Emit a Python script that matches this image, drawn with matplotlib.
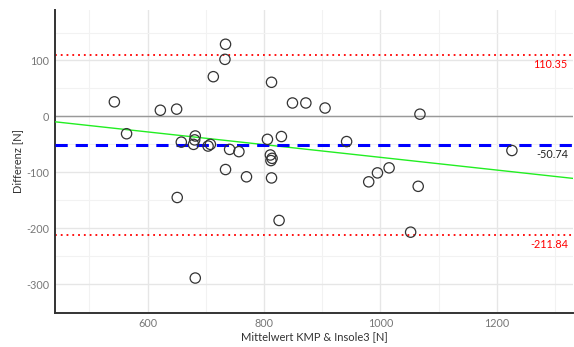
import matplotlib
matplotlib.use("Agg")
import matplotlib.pyplot as plt
import numpy as np

mean_x = [543, 564, 622, 650, 651, 658, 682, 681, 679, 682, 704, 708, 713, 733, 734,
          734, 741, 757, 770, 806, 813, 811, 814, 812, 813, 826, 830, 849, 872, 905,
          942, 980, 995, 1015, 1052, 1065, 1068, 1226]
diff_y = [26, -31, 11, 13, -145, -46, -35, -42, -50, -289, -53, -50, 71, 102, 129,
          -95, -59, -63, -108, -41, 61, -69, -75, -79, -110, -186, -36, 24, 24, 15,
          -45, -117, -101, -92, -207, -125, 4, -61]

bias = -50.74
loa_upper = 110.35
loa_lower = -211.84
reg_intercept = 40.5
reg_slope = -0.1137

x_ticks = [600, 800, 1000, 1200]
y_ticks = [-300, -200, -100, 0, 100]

plt.rcParams['font.family'] = ['Lato', 'DejaVu Sans']
plt.rcParams['axes.unicode_minus'] = False

fig = plt.figure(figsize=(5.74, 3.47), dpi=100)
ax = fig.add_axes([0.0958, 0.0988, 0.9025, 0.872])

xlim = (441, 1331)
ylim = (-351, 190)
ax.set_xlim(*xlim)
ax.set_ylim(*ylim)

ax.set_xticks(x_ticks)
ax.set_yticks(y_ticks)
ax.set_xticks([500, 700, 900, 1100, 1300], minor=True)
ax.set_yticks([-350, -250, -150, -50, 50, 150], minor=True)
ax.grid(True, which='major', color='#e6e6e6', linewidth=1.0)
ax.grid(True, which='minor', color='#f2f2f2', linewidth=0.8)
ax.set_axisbelow(True)
ax.tick_params(which='both', length=0, labelsize=7.8, labelcolor='#777777', pad=4)

for s in ['top', 'right']:
    ax.spines[s].set_visible(False)
for s in ['left', 'bottom']:
    ax.spines[s].set_color('#333333')
    ax.spines[s].set_linewidth(1.4)

ax.axhline(0, color='#999999', linewidth=1.0, zorder=2)
ax.axhline(loa_upper, color='red', linestyle=(0, (1, 2.2)), linewidth=1.3, zorder=2)
ax.axhline(loa_lower, color='red', linestyle=(0, (1, 2.2)), linewidth=1.3, zorder=2)

xr = np.array(xlim)
ax.plot(xr, reg_intercept + reg_slope * xr, color='#22ee22', linewidth=1.0, zorder=3)
ax.axhline(bias, color='blue', linestyle=(0, (4, 2.6)), linewidth=2.2, zorder=3)

ax.scatter(mean_x, diff_y, s=55, facecolors='none', edgecolors='#333333',
           linewidths=0.9, zorder=4)

ax.text(0.99, loa_upper - 8, f"{loa_upper:.2f}", transform=ax.get_yaxis_transform(),
        ha='right', va='top', color='red', fontsize=7.8)
ax.text(0.99, bias - 8, f"{bias:.2f}", transform=ax.get_yaxis_transform(),
        ha='right', va='top', color='#222222', fontsize=7.8)
ax.text(0.99, loa_lower - 8, f"{loa_lower:.2f}", transform=ax.get_yaxis_transform(),
        ha='right', va='top', color='red', fontsize=7.8)

ax.set_xlabel("Mittelwert KMP & Insole3 [N]", fontsize=8, color='#333333', labelpad=1)
ax.set_ylabel("Differenz [N]", fontsize=8, color='#333333', labelpad=2)

fig.savefig("out.png", dpi=100)
